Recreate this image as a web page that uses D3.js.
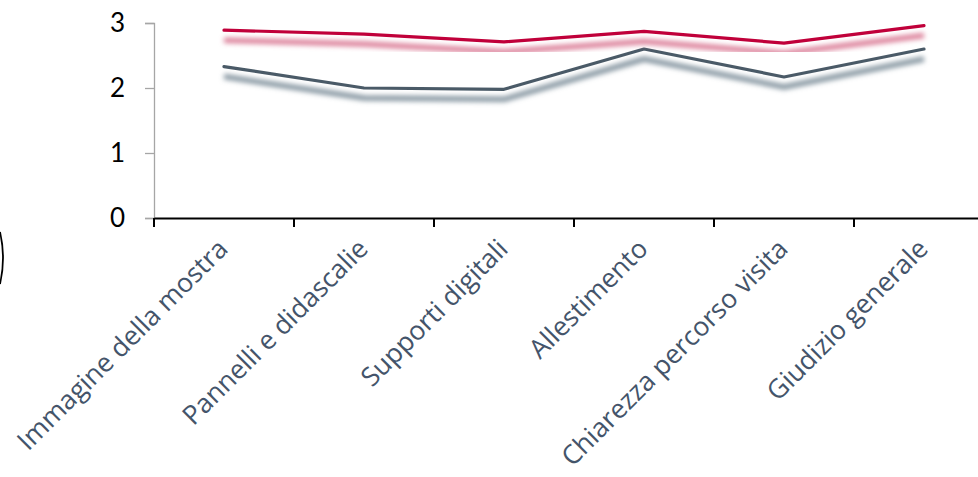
<!DOCTYPE html>
<html>
<head>
<meta charset="utf-8">
<script src="https://cdn.jsdelivr.net/npm/d3@7"></script>
<style>
  body { margin: 0; background: #fff; }
  svg { display: block; }
</style>
</head>
<body>
<svg></svg>
<script>
// categories on the x axis
let categories = ["Immagine della mostra", "Pannelli e didascalie", "Supporti digitali",
                  "Allestimento", "Chiarezza percorso visita", "Giudizio generale"];
// the two series (red above, grey below)
let seriesRed  = [2.89, 2.83, 2.71, 2.87, 2.69, 2.96];
let seriesGrey = [2.33, 2.00, 1.98, 2.60, 2.17, 2.60];
let yTicks = [0, 1, 2, 3];

let width = 978;
let height = 477;
let plotLeft = 154;
let plotTop = 23;
let plotBottom = 218;

let svg = d3.select("svg")
    .attr("width", width)
    .attr("height", height);

// soft shadow under each line
let defs = svg.append("defs");
let shadow = defs.append("filter")
    .attr("id", "shadow")
    .attr("x", "-10%").attr("y", "-50%")
    .attr("width", "120%").attr("height", "200%");
shadow.append("feGaussianBlur").attr("in", "SourceGraphic").attr("stdDeviation", 2.5).attr("result", "b");
shadow.append("feOffset").attr("in", "b").attr("dx", 0).attr("dy", 10);

// x scale: one band per category, the last band runs past the window edge
let xScale = d3.scaleBand()
    .domain(categories)
    .range([plotLeft, plotLeft + 140 * categories.length]);

let yScale = d3.scaleLinear()
    .domain([0, 3])
    .range([plotBottom, plotTop]);

// y axis
let yAxis = d3.axisLeft(yScale)
    .tickValues(yTicks)
    .tickSize(9)
    .tickPadding(20)
    .tickFormat(d3.format("d"));

let gy = svg.append("g")
    .attr("transform", "translate(" + plotLeft + ",0)")
    .call(yAxis);
gy.select(".domain").attr("stroke", "#a6a6a6").attr("stroke-width", 1.3);
gy.selectAll(".tick line").attr("stroke", "#a6a6a6").attr("stroke-width", 1.3);
gy.selectAll(".tick text")
    .attr("fill", "#000")
    .style("font-family", "Lato, 'Open Sans', sans-serif")
    .style("font-size", "26px");

// lines
let line = d3.line()
    .x((d, i) => xScale(categories[i]) + xScale.bandwidth() / 2)
    .y((d) => yScale(d));

let drawSeries = (values, color, shadowColor) => {
    svg.append("path")
        .datum(values)
        .attr("d", line)
        .attr("fill", "none")
        .attr("stroke", shadowColor)
        .attr("stroke-width", 5.5)
        .attr("stroke-linejoin", "round")
        .attr("filter", "url(#shadow)");
    svg.append("path")
        .datum(values)
        .attr("d", line)
        .attr("fill", "none")
        .attr("stroke", color)
        .attr("stroke-width", 3.2)
        .attr("stroke-linejoin", "round")
        .attr("stroke-linecap", "round");
}

drawSeries(seriesGrey, "#4a5a67", "#8797a2");
drawSeries(seriesRed, "#c0003a", "#dc7f99");

// x axis
let xAxis = d3.axisBottom(xScale)
    .tickSize(0)
    .tickFormat("");

let gx = svg.append("g")
    .attr("transform", "translate(0," + plotBottom + ")")
    .call(xAxis);
gx.select(".domain").attr("stroke", "#000").attr("stroke-width", 2.2);

// tick marks sit between categories
gx.selectAll(".sep")
    .data(d3.range(categories.length + 1))
    .enter()
    .append("line")
    .attr("x1", (i) => plotLeft + i * xScale.step())
    .attr("x2", (i) => plotLeft + i * xScale.step())
    .attr("y1", 0)
    .attr("y2", 9)
    .attr("stroke", "#000")
    .attr("stroke-width", 2);

// rotated category labels
svg.append("g")
    .selectAll("text")
    .data(categories)
    .enter()
    .append("text")
    .attr("transform", (d) => "translate(" + (xScale(d) + xScale.bandwidth() / 2 - 8) + "," + (plotBottom + 19) + ") rotate(-45)")
    .attr("text-anchor", "end")
    .attr("dy", "0.72em")
    .attr("fill", "#44546a")
    .style("font-family", "'Open Sans', sans-serif")
    .style("font-size", "26.5px")
    .text((d) => d);

// stray bracket edge at the far left of the crop
svg.append("path")
    .attr("d", "M0,232 Q6,258 0,284")
    .attr("fill", "none")
    .attr("stroke", "#000")
    .attr("stroke-width", 1.8);
</script>
</body>
</html>
